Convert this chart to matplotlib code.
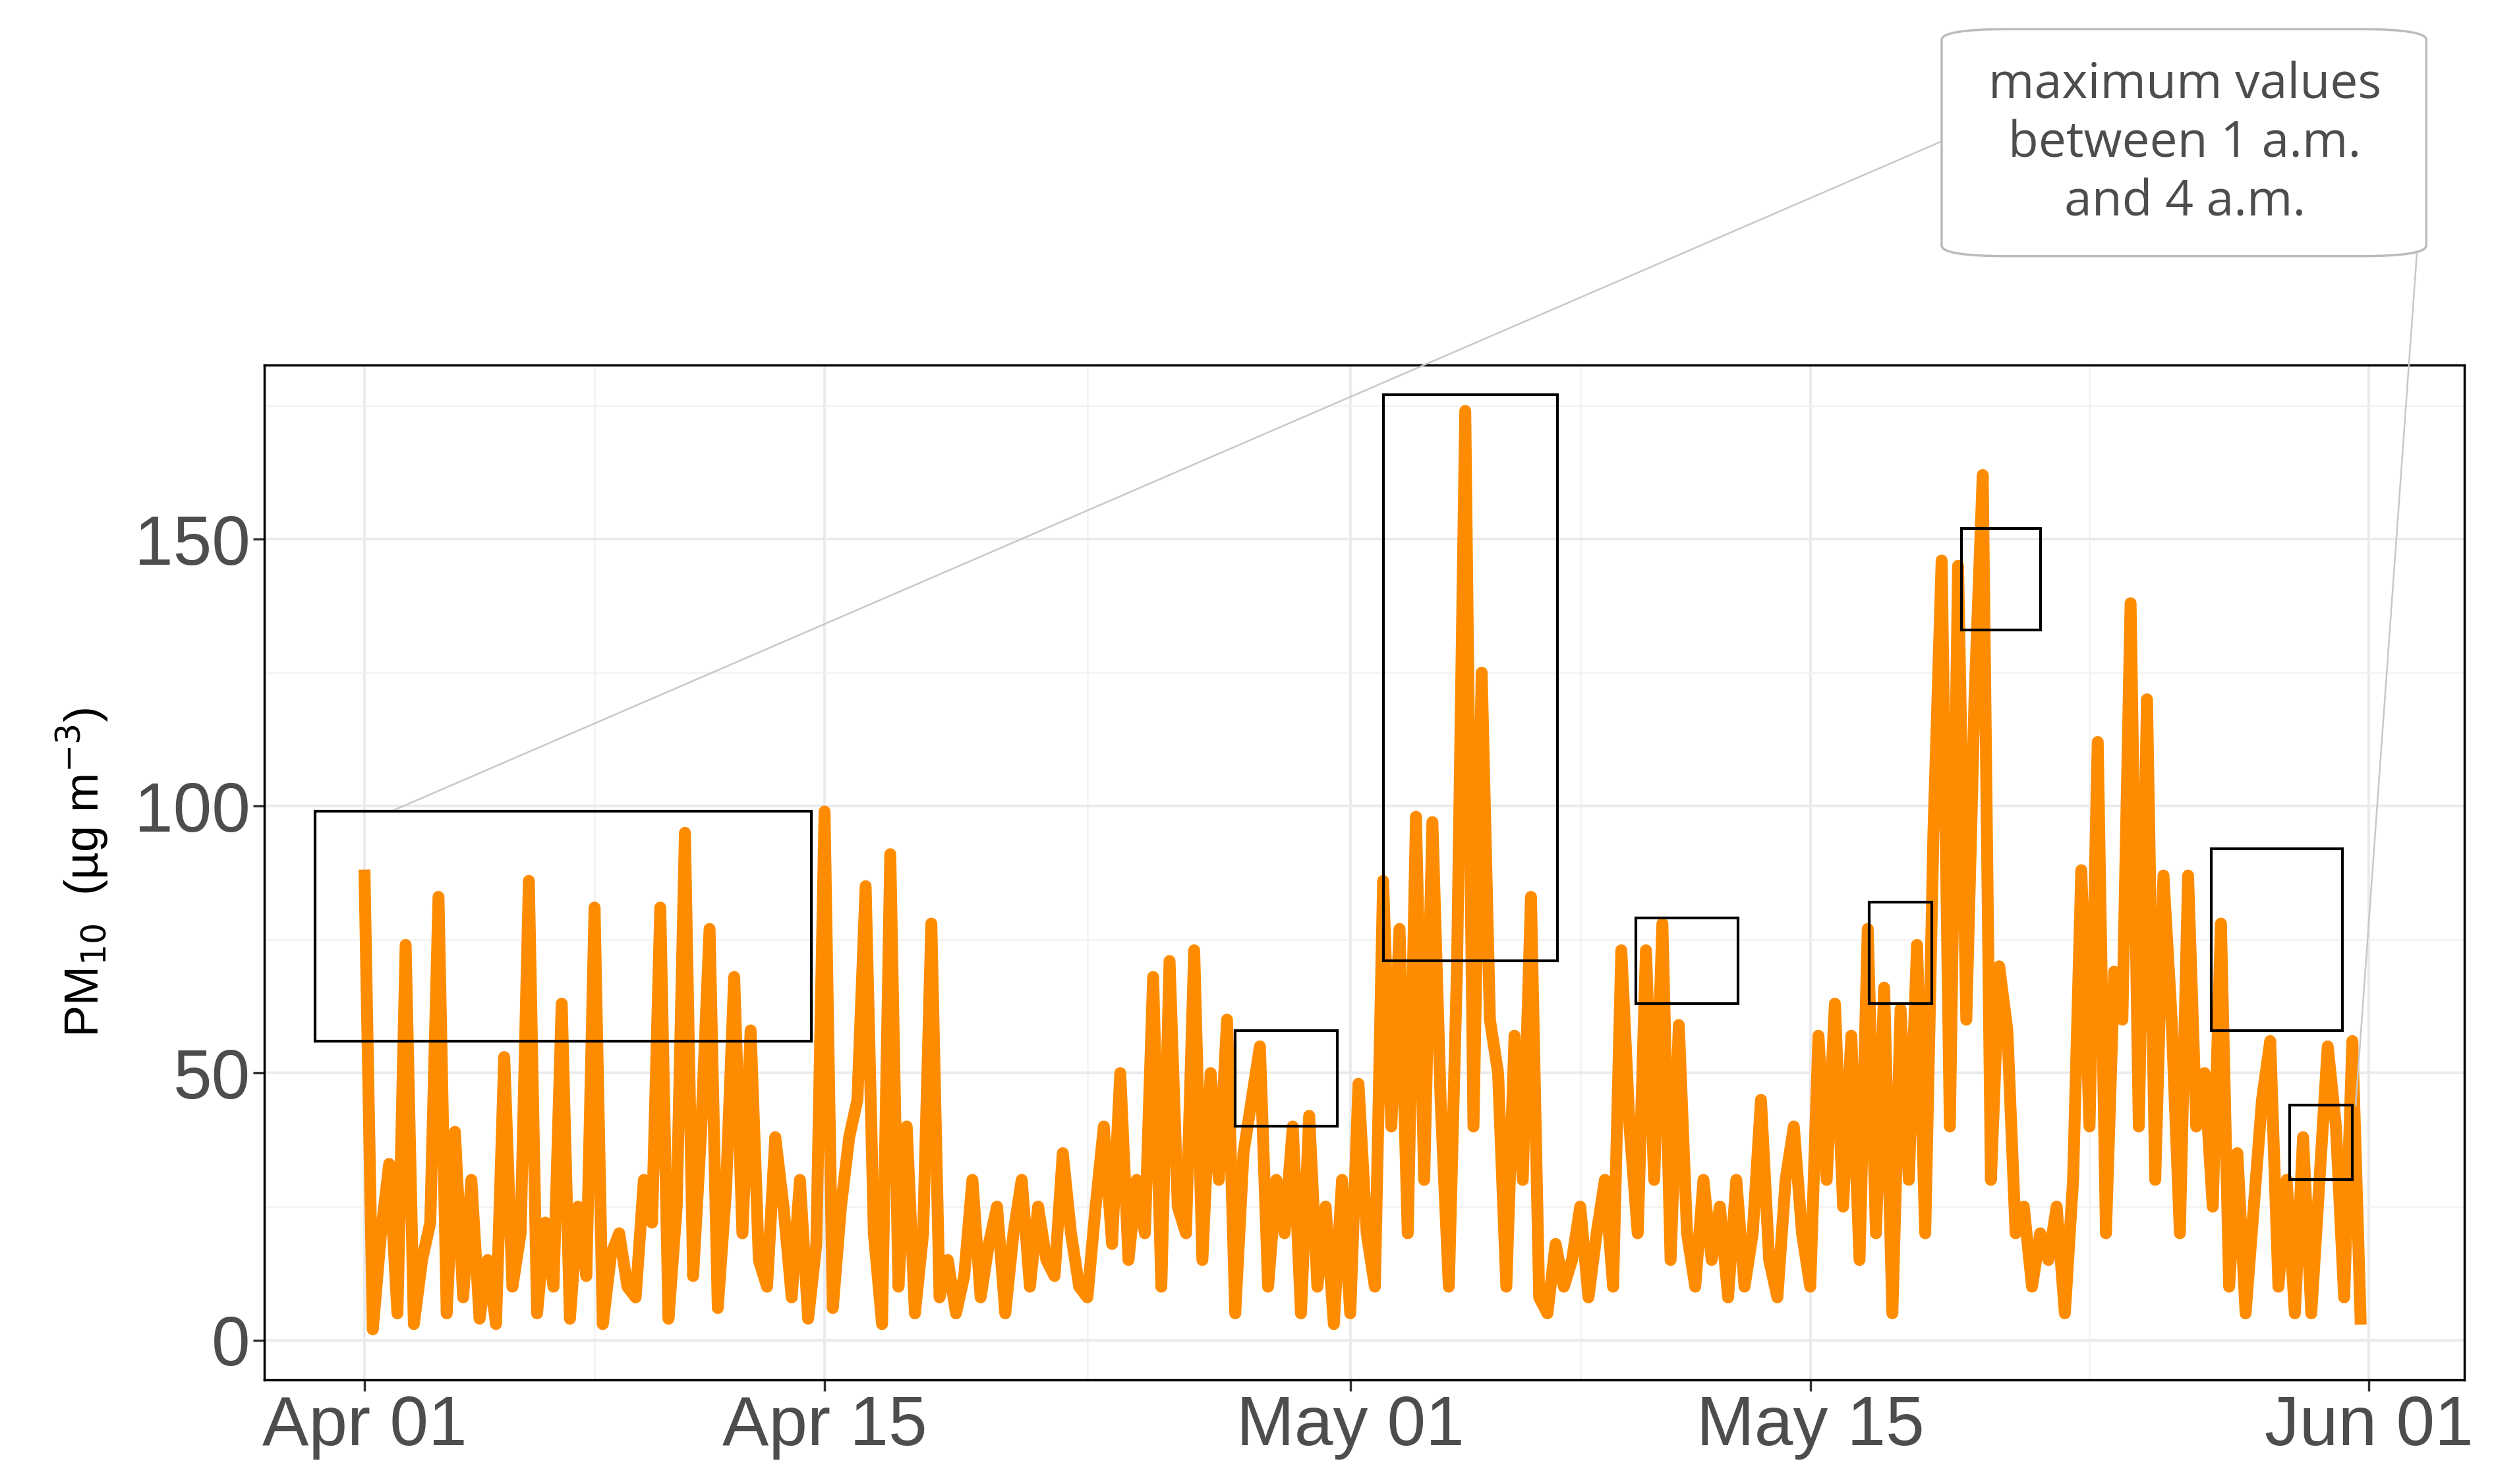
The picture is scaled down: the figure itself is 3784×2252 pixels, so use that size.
import matplotlib.pyplot as plt
import numpy as np
from matplotlib.patches import Rectangle, FancyBboxPatch

# PM10 readings, 4 samples per day starting Apr 01 (day 0)
pm10_by_day = [
    [87, 2, 20, 33], [5, 74, 3, 15], [22, 83, 5, 39], [8, 30, 4, 15],
    [3, 53, 10, 20], [86, 5, 22, 10], [63, 4, 25, 12], [81, 3, 16, 20],
    [10, 8, 30, 22], [81, 4, 25, 95], [12, 40, 77, 6], [28, 68, 20, 58],
    [15, 10, 38, 25], [8, 30, 4, 18], [99, 6, 25, 38], [45, 85, 20, 3],
    [91, 10, 40, 5], [20, 78, 8, 15], [5, 12, 30, 8], [18, 25, 5, 20],
    [30, 10, 25, 15], [12, 35, 20, 10], [8, 25, 40, 18], [50, 15, 30, 20],
    [68, 10, 71, 25], [20, 73, 15, 50], [30, 60, 5, 35], [45, 55, 10, 30],
    [20, 40, 5, 42], [10, 25, 3, 30], [5, 48, 20, 10], [86, 40, 77, 20],
    [98, 30, 97, 45], [10, 70, 174, 40], [125, 60, 50, 10], [57, 30, 83, 8],
    [5, 18, 10, 15], [25, 8, 20, 30], [10, 73, 40, 20], [73, 30, 78, 15],
    [59, 20, 10, 30], [15, 25, 8, 30], [10, 20, 45, 15], [8, 30, 40, 20],
    [10, 57, 30, 63], [25, 57, 15, 77], [20, 66, 5, 62], [30, 74, 20, 95],
    [146, 40, 145, 60], [120, 162, 30, 70], [58, 20, 25, 10], [20, 15, 25, 5],
    [30, 88, 40, 112], [20, 69, 60, 138], [40, 120, 30, 87], [60, 20, 87, 40],
    [50, 25, 78, 10], [35, 5, 25, 45], [56, 10, 30, 5], [38, 5, 30, 55],
    [40, 8, 56, 4],
]
# highlighted windows: (day start, day end, pm low, pm high)
boxes = [(-1.5, 13.6, 56, 99), (26.5, 29.6, 40, 58), (31.0, 36.3, 71, 177),
         (38.7, 41.8, 63, 79), (45.8, 47.7, 63, 82), (48.6, 51.0, 133, 152),
         (56.2, 60.2, 58, 92), (58.6, 60.5, 30, 44)]
tick_days = [0, 14, 30, 44, 61]
tick_labels = ["Apr 01", "Apr 15", "May 01", "May 15", "Jun 01"]

values = np.array(pm10_by_day, dtype=float).ravel()
t = np.arange(len(values)) / 4.0

fig = plt.figure(figsize=(37.84, 22.52), dpi=100)
ax = fig.add_axes([0.106, 0.070, 0.882, 0.684])

ax.plot(t, values, color="#ff8c00", lw=13, solid_joinstyle="round")

for x0, x1, y0, y1 in boxes:
    ax.add_patch(Rectangle((x0, y0), x1 - x0, y1 - y0, fill=False,
                           ec="black", lw=3, zorder=5))

ax.set_xlim(-3.05, 63.9)
ax.set_ylim(-7.5, 182.6)
ax.set_xticks(tick_days)
ax.set_xticklabels(tick_labels)
ax.set_xticks([7, 22, 37, 52.5], minor=True)
ax.set_yticks([0, 50, 100, 150])
ax.set_yticks([25, 75, 125, 175], minor=True)
ax.grid(which="major", color="#ebebeb", lw=3)
ax.grid(which="minor", color="#f2f2f2", lw=1.8)
ax.set_axisbelow(True)
ax.tick_params(which="major", labelsize=76, labelcolor="#4d4d4d",
               length=12, width=2.5, color="#333333")
ax.tick_params(which="minor", length=0)
for lab in ax.get_xticklabels() + ax.get_yticklabels():
    lab.set_family("Liberation Sans")
for s in ax.spines.values():
    s.set_linewidth(2.5)
ax.set_ylabel("PM$_{10}$  (µg m$^{-3}$)", fontsize=52, labelpad=25,
              family="Liberation Sans")

# callout
ax.add_patch(FancyBboxPatch((48.0, 203), 14.75, 42.5, boxstyle="round,pad=0,rounding_size=2",
                            transform=ax.transData, clip_on=False, fc="white",
                            ec="#bbbbbb", lw=2.5, zorder=6))
ax.text(55.4, 224, "maximum values\nbetween 1 a.m.\nand 4 a.m.", ha="center",
        va="center", fontsize=54, color="#4d4d4d", linespacing=1.25, zorder=7,
        family="Open Sans", clip_on=False)
ax.plot([48.0, 0.8], [224.5, 99], color="#c8c8c8", lw=1.8, clip_on=False, zorder=4)
ax.plot([62.75, 60.6], [228, 44], color="#c8c8c8", lw=1.8, clip_on=False, zorder=4)

fig.savefig("out.png", dpi=100)
